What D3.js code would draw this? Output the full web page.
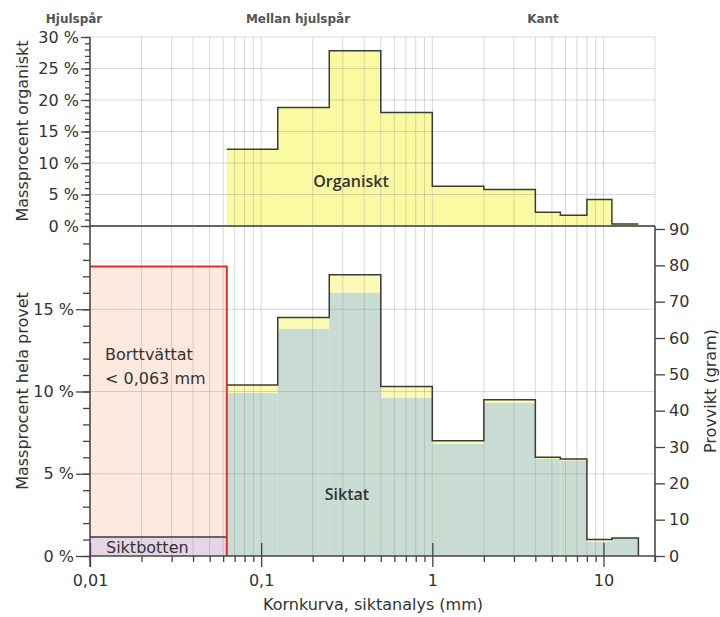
<!DOCTYPE html>
<html>
<head>
<meta charset="utf-8">
<script src="https://cdn.jsdelivr.net/npm/d3@7"></script>
<style>
  body { margin: 0; background: #fff; }
  svg { font-family: "DejaVu Sans", sans-serif; }
</style>
</head>
<body>
<svg></svg>
<script>
// sieve sizes (mm), bin edges
const edges = [0.063, 0.125, 0.25, 0.5, 1, 2, 4, 5.6, 8, 11.2, 16];
// top panel: massprocent organiskt per fraction
const organiskt = [12.2, 18.8, 27.8, 18.0, 6.3, 5.8, 2.2, 1.7, 4.2, 0.3];
// bottom panel: massprocent hela provet (total, and mineral part)
const totalHela = [10.4, 14.5, 17.1, 10.3, 7.0, 9.5, 6.0, 5.9, 1.0, 1.1];
const siktat = [9.9, 13.8, 16.0, 9.6, 6.8, 9.3, 5.9, 5.8, 0.85, 1.08];
const borttvattat = 17.6;
const siktbotten = 1.15;

const topTicks = [0, 5, 10, 15, 20, 25, 30];
const botTicks = [0, 5, 10, 15];
const rightTicks = [0, 10, 20, 30, 40, 50, 60, 70, 80, 90];
const xMajor = [0.01, 0.1, 1, 10];
const xLabels = ["0,01", "0,1", "1", "10"];
const headers = [
  { text: "Hjulspår", x: 74 },
  { text: "Mellan hjulspår", x: 298 },
  { text: "Kant", x: 543 }
];

const svg = d3.select("svg")
    .attr("width", 720)
    .attr("height", 617);

const x = d3.scaleLog().domain([0.01, 20]).range([90, 655]);
const yTop = d3.scaleLinear().domain([0, 30]).range([226, 37]);
const yBot = d3.scaleLinear().domain([0, 20]).range([556, 227]);
const yRight = d3.scaleLinear().domain([0, 90]).range([556, 229]);

const bins = edges.slice(0, -1).map((e, i) => ({
    x0: e, x1: edges[i + 1],
    org: organiskt[i], tot: totalHela[i], min: siktat[i]
}));

// grid values 1..9 of each decade
const gridX = [];
xMajor.forEach(d => { for (let k = 1; k <= 9; k++) if (k * d <= 20.001) gridX.push(k * d); });

// ---- fills ----
svg.selectAll(".orgBar").data(bins).enter().append("rect")
    .attr("x", d => x(d.x0))
    .attr("width", d => x(d.x1) - x(d.x0))
    .attr("y", d => yTop(d.org))
    .attr("height", d => yTop(0) - yTop(d.org))
    .style("fill", "#fafaa2");

svg.append("rect")
    .attr("x", x(0.01)).attr("width", x(0.063) - x(0.01))
    .attr("y", yBot(borttvattat)).attr("height", yBot(0) - yBot(borttvattat))
    .style("fill", "#fde9dd");

svg.append("rect")
    .attr("x", x(0.01)).attr("width", x(0.063) - x(0.01))
    .attr("y", yBot(siktbotten)).attr("height", yBot(0) - yBot(siktbotten))
    .style("fill", "#e6d5e6");

svg.selectAll(".totBar").data(bins).enter().append("rect")
    .attr("x", d => x(d.x0))
    .attr("width", d => x(d.x1) - x(d.x0))
    .attr("y", d => yBot(d.tot))
    .attr("height", d => yBot(0) - yBot(d.tot))
    .style("fill", "#fafab6");

svg.selectAll(".minBar").data(bins).enter().append("rect")
    .attr("x", d => x(d.x0))
    .attr("width", d => x(d.x1) - x(d.x0))
    .attr("y", d => yBot(d.min))
    .attr("height", d => yBot(0) - yBot(d.min))
    .style("fill", "#c9dcd4");

// ---- grid ----
svg.selectAll(".vgrid").data(gridX).enter().append("line")
    .attr("x1", d => x(d)).attr("x2", d => x(d))
    .attr("y1", yTop(30)).attr("y2", yBot(0))
    .style("stroke", "rgba(130,130,130,0.3)");

svg.selectAll(".hgridTop").data(topTicks.slice(1)).enter().append("line")
    .attr("x1", x(0.01)).attr("x2", x(20))
    .attr("y1", d => yTop(d)).attr("y2", d => yTop(d))
    .style("stroke", "rgba(130,130,130,0.3)");

svg.selectAll(".hgridBot").data(botTicks.slice(1)).enter().append("line")
    .attr("x1", x(0.01)).attr("x2", x(20))
    .attr("y1", d => yBot(d)).attr("y2", d => yBot(d))
    .style("stroke", "rgba(130,130,130,0.3)");

// ---- outlines ----
const stepTop = bins.map(d => [d.x0, d.org]).concat([[16, organiskt[organiskt.length - 1]]]);
svg.append("path")
    .attr("d", d3.line().x(d => x(d[0])).y(d => yTop(d[1])).curve(d3.curveStepAfter)(stepTop))
    .style("fill", "none").style("stroke", "#3a3a3a").style("stroke-width", 1.5);

const stepBot = bins.map(d => [d.x0, d.tot]).concat([[16, totalHela[totalHela.length - 1]], [16, 0]]);
svg.append("path")
    .attr("d", d3.line().x(d => x(d[0])).y(d => yBot(d[1])).curve(d3.curveStepAfter)(stepBot))
    .style("fill", "none").style("stroke", "#3a3a3a").style("stroke-width", 1.5);

svg.append("line")
    .attr("x1", x(0.01)).attr("x2", x(0.063))
    .attr("y1", yBot(siktbotten)).attr("y2", yBot(siktbotten))
    .style("stroke", "#3a3a3a").style("stroke-width", 1.5);

svg.append("path")
    .attr("d", `M${x(0.01)},${yBot(borttvattat)}H${x(0.063)}V${yBot(0)}`)
    .style("fill", "none").style("stroke", "#e0302c").style("stroke-width", 2);

// top panel zero line
svg.append("line")
    .attr("x1", x(0.01)).attr("x2", x(20))
    .attr("y1", yTop(0)).attr("y2", yTop(0))
    .style("stroke", "#666").style("stroke-width", 2);

// ---- axes ----
function styleAxis(g) {
    g.select(".domain").remove();
    g.selectAll("line").style("stroke", "#444").style("stroke-width", 1.3);
    g.selectAll("text").style("font-size", "16px").style("fill", "#333")
        .style("font-family", "DejaVu Sans, sans-serif");
}

svg.append("g").attr("transform", `translate(${x(0.01)},0)`)
    .call(d3.axisLeft(yTop).tickValues(topTicks).tickSize(9).tickPadding(2).tickFormat(d => d + " %"))
    .call(styleAxis);
svg.append("g").attr("transform", `translate(${x(0.01)},0)`)
    .call(d3.axisLeft(yTop).tickValues(d3.range(0, 31)).tickSize(5).tickFormat(""))
    .call(styleAxis);

svg.append("g").attr("transform", `translate(${x(0.01)},0)`)
    .call(d3.axisLeft(yBot).tickValues(botTicks).tickSize(14).tickPadding(2).tickFormat(d => d + " %"))
    .call(styleAxis);
svg.append("g").attr("transform", `translate(${x(0.01)},0)`)
    .call(d3.axisLeft(yBot).tickValues(d3.range(0, 20)).tickSize(7).tickFormat(""))
    .call(styleAxis);

svg.append("g").attr("transform", `translate(${x(20)},0)`)
    .call(d3.axisRight(yRight).tickValues(rightTicks).tickSize(10).tickPadding(4))
    .call(styleAxis);

// x axis: minor ticks below, major ticks across
svg.append("g").attr("transform", `translate(0,${yBot(0)})`)
    .call(d3.axisBottom(x).tickValues(gridX.filter(d => !xMajor.includes(d))).tickSize(6).tickFormat(""))
    .call(styleAxis);
const xAx = svg.append("g").attr("transform", `translate(0,${yBot(0)})`)
    .call(d3.axisBottom(x).tickValues(xMajor).tickSize(11).tickPadding(8).tickFormat((d, i) => xLabels[i]))
    .call(styleAxis);
xAx.selectAll(".tick line").attr("y1", -13);

// axis lines
svg.append("line")
    .attr("x1", x(0.01)).attr("x2", x(0.01)).attr("y1", yTop(30)).attr("y2", yBot(0) + 11)
    .style("stroke", "#444").style("stroke-width", 1.5);
svg.append("line")
    .attr("x1", x(20)).attr("x2", x(20)).attr("y1", yTop(0)).attr("y2", yBot(0) + 6)
    .style("stroke", "#444").style("stroke-width", 1.5);
svg.append("line")
    .attr("x1", x(0.01)).attr("x2", x(20)).attr("y1", yBot(0)).attr("y2", yBot(0))
    .style("stroke", "#444").style("stroke-width", 1.5);

// ---- texts ----
svg.selectAll(".header").data(headers).enter().append("text")
    .attr("x", d => d.x).attr("y", 23)
    .attr("text-anchor", "middle")
    .text(d => d.text)
    .style("font-size", "12px").style("font-weight", "bold").style("fill", "#555");

svg.append("text")
    .attr("transform", "rotate(-90)")
    .attr("x", -131).attr("y", 28)
    .attr("text-anchor", "middle")
    .text("Massprocent organiskt")
    .style("font-size", "16px").style("fill", "#333");

svg.append("text")
    .attr("transform", "rotate(-90)")
    .attr("x", -391).attr("y", 28)
    .attr("text-anchor", "middle")
    .text("Massprocent hela provet")
    .style("font-size", "16px").style("fill", "#333");

svg.append("text")
    .attr("transform", "rotate(-90)")
    .attr("x", -391).attr("y", 716)
    .attr("text-anchor", "middle")
    .text("Provvikt (gram)")
    .style("font-size", "16px").style("fill", "#333");

svg.append("text")
    .attr("x", 373).attr("y", 610)
    .attr("text-anchor", "middle")
    .text("Kornkurva, siktanalys (mm)")
    .style("font-size", "16px").style("fill", "#333");

svg.append("text")
    .attr("x", 351).attr("y", 187)
    .attr("text-anchor", "middle")
    .text("Organiskt")
    .style("font-family", "'Open Sans', sans-serif")
    .style("font-size", "16px").style("font-weight", 600).style("fill", "#333");

svg.append("text")
    .attr("x", 347).attr("y", 500)
    .attr("text-anchor", "middle")
    .text("Siktat")
    .style("font-family", "'Open Sans', sans-serif")
    .style("font-size", "16px").style("font-weight", 600).style("fill", "#333");

svg.append("text")
    .attr("x", 105).attr("y", 360)
    .text("Borttvättat")
    .style("font-size", "16px").style("fill", "#333");
svg.append("text")
    .attr("x", 105).attr("y", 384)
    .text("< 0,063 mm")
    .style("font-size", "16px").style("fill", "#333");

svg.append("text")
    .attr("x", 106).attr("y", 553)
    .text("Siktbotten")
    .style("font-size", "16px").style("fill", "#333");
</script>
</body>
</html>
